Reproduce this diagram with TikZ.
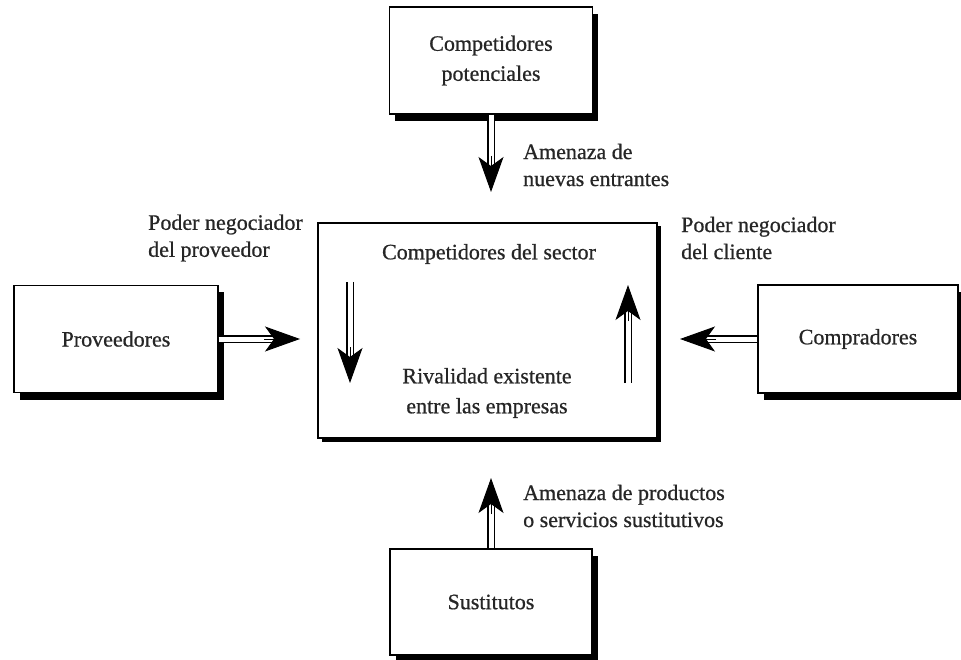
\documentclass[tikz,border=0pt]{standalone}
\usepackage{fontspec}
\setmainfont{Liberation Serif}[FakeBold=0.7]
\usetikzlibrary{arrows.meta,shadows,calc}
\begin{document}
\begin{tikzpicture}[x=1pt,y=-1pt,
  every node/.style={font=\fontsize{22}{27}\selectfont, text=black!85},
  boxbase/.style={draw, line width=1.1pt, fill=white, inner sep=0pt, align=center},
  box/.style={boxbase, drop shadow={shadow xshift=5.5pt, shadow yshift=-7pt, fill=black, opacity=1}},
  bigbox/.style={boxbase, drop shadow={shadow xshift=3.5pt, shadow yshift=-3.5pt, fill=black, opacity=1}},
  lbl/.style={align=left, anchor=west, inner sep=0pt},
  txt/.style={align=center, inner sep=0pt},
  dbl/.style={draw, line width=1.3pt, double=white, double distance=5pt},
  head/.style={-{Stealth[length=35pt,width=25pt,inset=9pt]}, line width=1pt}]
\useasboundingbox (0,0) rectangle (961,660);

% boxes
\node[box, minimum width=203pt, minimum height=107pt, font=\fontsize{22}{30}\selectfont] (pot) at (491,60.5) {Competidores\\potenciales};
\node[box, minimum width=204pt, minimum height=107pt] (prov) at (116,339) {Proveedores};
\node[box, minimum width=200pt, minimum height=108pt] (comp) at (858,339) {Compradores};
\node[box, minimum width=202pt, minimum height=106pt] (sust) at (491,602) {Sustitutos};
\node[bigbox, minimum width=339pt, minimum height=215pt] (sec) at (487.5,330.5) {};

% texts inside centre box
\node[txt] (sectitle) at (489,254) {Competidores del sector};
\node[txt, font=\fontsize{22}{30}\selectfont] (rival) at (487,393) {Rivalidad existente\\entre las empresas};

% labels
\node[lbl] (l1) at (523,165) {Amenaza de\\nuevas entrantes};
\node[lbl] (l2) at (148,238) {Poder negociador\\del proveedor};
\node[lbl] (l3) at (681,238) {Poder negociador\\del cliente};
\node[lbl] (l4) at (523,506) {Amenaza de productos\\o servicios sustitutivos};

% tips
\coordinate (t1) at (491,192);
\coordinate (t2) at (300,339);
\coordinate (t3) at (680,339);
\coordinate (t4) at (491,478);
\coordinate (la1) at (350,282);
\coordinate (la2) at (350,383);
\coordinate (ra1) at (628,383);
\coordinate (ra2) at (628,285);

% arrows
\draw[dbl, shorten >=22pt] (pot.south) -- (t1);
\draw[head] ($(t1)!36pt!(pot.south)$) -- (t1);
\draw[dbl, shorten >=22pt] (prov.east) -- (t2);
\draw[head] ($(t2)!36pt!(prov.east)$) -- (t2);
\draw[dbl, shorten >=22pt] (comp.west) -- (t3);
\draw[head] ($(t3)!36pt!(comp.west)$) -- (t3);
\draw[dbl, shorten >=22pt] (sust.north) -- (t4);
\draw[head] ($(t4)!36pt!(sust.north)$) -- (t4);
\draw[dbl, shorten >=22pt] (la1) -- (la2);
\draw[head] ($(la2)!36pt!(la1)$) -- (la2);
\draw[dbl, shorten >=22pt] (ra1) -- (ra2);
\draw[head] ($(ra2)!36pt!(ra1)$) -- (ra2);
\end{tikzpicture}
\end{document}
